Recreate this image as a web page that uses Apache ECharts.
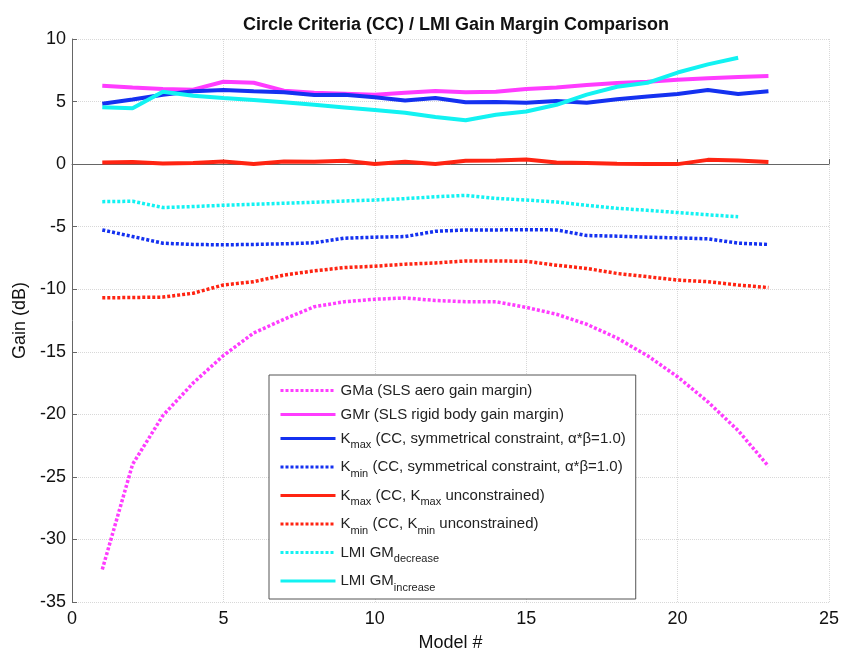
<!DOCTYPE html>
<html>
<head>
<meta charset="utf-8">
<script src="https://cdn.jsdelivr.net/npm/echarts@6/dist/echarts.min.js"></script>
<style>
  html, body { margin: 0; padding: 0; background: #fff; }
  #main { width: 845px; height: 657px; }
</style>
</head>
<body>
<div id="main"></div>
<script>
// model numbers
var models = [1, 2, 3, 4, 5, 6, 7, 8, 9, 10, 11, 12, 13, 14, 15, 16, 17, 18, 19, 20, 21, 22, 23];

// gain values (dB)
var gmAero = [-32.4, -24.0, -20.1, -17.5, -15.3, -13.5, -12.4, -11.4, -11.0, -10.8, -10.7, -10.9, -11.0, -11.0, -11.45, -12.0, -12.8, -13.9, -15.3, -17.0, -19.0, -21.3, -24.15];
var gmRigid = [6.27, 6.13, 6.0, 5.95, 6.58, 6.5, 5.87, 5.7, 5.63, 5.55, 5.7, 5.84, 5.74, 5.78, 6.0, 6.13, 6.32, 6.48, 6.58, 6.74, 6.87, 6.97, 7.05];
var kmaxSym = [4.82, 5.16, 5.55, 5.82, 5.92, 5.82, 5.74, 5.53, 5.55, 5.34, 5.08, 5.29, 4.95, 4.97, 4.9, 5.05, 4.9, 5.18, 5.4, 5.61, 5.92, 5.61, 5.82];
var kminSym = [-5.26, -5.79, -6.32, -6.42, -6.45, -6.42, -6.37, -6.29, -5.92, -5.84, -5.79, -5.37, -5.26, -5.26, -5.24, -5.26, -5.71, -5.76, -5.84, -5.9, -5.97, -6.32, -6.42];
var kmaxUnc = [0.13, 0.16, 0.05, 0.08, 0.21, 0.0, 0.21, 0.18, 0.26, 0.0, 0.18, 0.0, 0.26, 0.29, 0.37, 0.13, 0.08, 0.03, 0.0, 0.0, 0.34, 0.29, 0.16];
var kminUnc = [-10.69, -10.66, -10.63, -10.32, -9.66, -9.4, -8.87, -8.53, -8.27, -8.16, -8.0, -7.9, -7.74, -7.74, -7.77, -8.08, -8.34, -8.74, -9.0, -9.27, -9.4, -9.66, -9.87];
var lmiDec = [-3.0, -2.97, -3.47, -3.39, -3.29, -3.21, -3.13, -3.05, -2.95, -2.87, -2.76, -2.61, -2.5, -2.74, -2.87, -3.03, -3.29, -3.53, -3.69, -3.87, -4.05, -4.21];
var lmiInc = [4.55, 4.47, 5.79, 5.47, 5.29, 5.13, 4.95, 4.74, 4.53, 4.32, 4.11, 3.76, 3.5, 3.95, 4.21, 4.74, 5.55, 6.18, 6.5, 7.32, 7.97, 8.5];

var magenta = '#ff3cff';
var blue = '#1431f0';
var red = '#ff2412';
var cyan = '#12f2f2';

function pairs(vals) {
    return vals.map(function (v, i) { return [models[i], v]; });
}

var legendText = {
    'GMa': 'GMa (SLS aero gain margin)',
    'GMr': 'GMr (SLS rigid body gain margin)',
    'KmaxSym': 'K{sub|max} (CC, symmetrical constraint, α*β=1.0)',
    'KminSym': 'K{sub|min} (CC, symmetrical constraint, α*β=1.0)',
    'KmaxUnc': 'K{sub|max} (CC, K{sub|max} unconstrained)',
    'KminUnc': 'K{sub|min} (CC, K{sub|min} unconstrained)',
    'LMIdec': 'LMI GM{sub|decrease}',
    'LMIinc': 'LMI GM{sub|increase}'
};

function line(name, vals, color, dotted) {
    return {
        name: name,
        type: 'line',
        data: pairs(vals),
        symbol: 'none',
        showSymbol: false,
        itemStyle: { color: color },
        lineStyle: {
            color: color,
            width: dotted ? 3.5 : 4,
            type: dotted ? [3, 2] : 'solid'
        },
        z: dotted ? 2 : 3
    };
}

var option = {
    animation: false,
    backgroundColor: '#fff',
    title: {
        text: 'Circle Criteria (CC) / LMI Gain Margin Comparison',
        left: 451,
        textAlign: 'center',
        top: 11,
        textStyle: { fontFamily: 'Liberation Sans', fontSize: 18, fontWeight: 'bold', color: '#111' }
    },
    grid: { left: 72, right: 16, top: 39, bottom: 48 },
    legend: {
        orient: 'vertical',
        left: 269,
        top: 375,
        padding: [8, 10, 6, 10],
        itemGap: 9,
        itemWidth: 55,
        itemHeight: 14,
        backgroundColor: '#fff',
        borderColor: '#555',
        borderWidth: 1,
        borderRadius: 0,
        itemStyle: { opacity: 0 },
        lineStyle: { width: 3 },
        data: ['GMa', 'GMr', 'KmaxSym', 'KminSym', 'KmaxUnc', 'KminUnc', 'LMIdec', 'LMIinc'],
        formatter: function (name) { return legendText[name]; },
        textStyle: {
            fontFamily: 'Liberation Sans',
            fontSize: 15,
            color: '#222',
            rich: {
                sub: { fontFamily: 'Liberation Sans', fontSize: 11, color: '#222', padding: [13, 0, 0, 0] }
            }
        }
    },
    xAxis: {
        type: 'value',
        min: 0,
        max: 25,
        interval: 5,
        name: 'Model #',
        nameLocation: 'middle',
        nameGap: 32,
        nameTextStyle: { fontFamily: 'Liberation Sans', fontSize: 18, color: '#111' },
        axisLine: { lineStyle: { color: '#666', width: 1 } },
        axisTick: { inside: true, length: 5, lineStyle: { color: '#666' } },
        axisLabel: { fontFamily: 'Liberation Sans', fontSize: 18, color: '#111', margin: 8 },
        splitLine: { show: true, lineStyle: { color: '#d8d8d8', type: 'dotted' } }
    },
    yAxis: {
        type: 'value',
        min: -35,
        max: 10,
        interval: 5,
        name: 'Gain (dB)',
        nameLocation: 'middle',
        nameGap: 37,
        nameTextStyle: { fontFamily: 'Liberation Sans', fontSize: 18, color: '#111' },
        axisLine: { show: true, lineStyle: { color: '#666', width: 1 } },
        axisTick: { show: true, inside: true, length: 5, lineStyle: { color: '#666' } },
        axisLabel: { fontFamily: 'Liberation Sans', fontSize: 18, color: '#111', margin: 6 },
        splitLine: { show: true, lineStyle: { color: '#d8d8d8', type: 'dotted' } }
    },
    series: [
        line('GMa', gmAero, magenta, true),
        line('GMr', gmRigid, magenta, false),
        line('KmaxSym', kmaxSym, blue, false),
        line('KminSym', kminSym, blue, true),
        line('KmaxUnc', kmaxUnc, red, false),
        line('KminUnc', kminUnc, red, true),
        line('LMIdec', lmiDec, cyan, true),
        line('LMIinc', lmiInc, cyan, false)
    ]
};

var myChart = echarts.init(document.getElementById('main'));
myChart.setOption(option);
</script>
</body>
</html>
